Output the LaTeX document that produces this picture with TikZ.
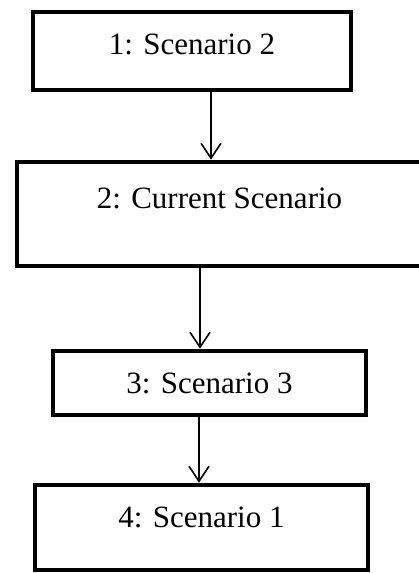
\documentclass[tikz,border=0pt]{standalone}
\usepackage{fontspec}
\setmainfont{Liberation Serif}
\usetikzlibrary{arrows.meta}
\tikzset{
  scenbox/.style={draw, rectangle, line width=4.6pt, inner sep=0pt, text height=21pt,
    font=\fontsize{31}{36}\selectfont},
  flow/.style={-{Straight Barb[length=15pt,width=20pt]}, line width=1.6pt}
}
\begin{document}
\begin{tikzpicture}[x=1pt, y=1pt]
    \useasboundingbox (0,0) rectangle (419,573);

    % Scenario boxes
    \node[scenbox, minimum width=318pt, minimum height=78pt, text depth=14pt] (first) at (192,522) {1: Scenario 2};
    \node[scenbox, minimum width=405pt, minimum height=104pt, text depth=32pt] (current) at (219.5,359) {2: Current Scenario};
    \node[scenbox, minimum width=313pt, minimum height=64pt, text depth=0pt] (third) at (209.5,190) {3: Scenario 3};
    \node[scenbox, minimum width=333pt, minimum height=85pt, text depth=21pt] (last) at (201.5,45.5) {4: Scenario 1};

    % Connections
    \draw[flow] ([xshift=19pt]first.south) -- ([xshift=19pt]first.south |- current.north);
    \draw[flow] ([xshift=-19.5pt]current.south) -- ([xshift=-19.5pt]current.south |- third.north);
    \draw[flow] ([xshift=-10.5pt]third.south) -- ([xshift=-10.5pt]third.south |- last.north);
\end{tikzpicture}
\end{document}
